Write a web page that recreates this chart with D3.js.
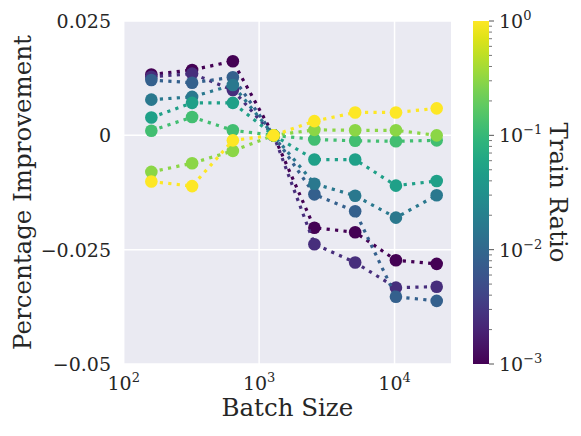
<!DOCTYPE html>
<html>
<head>
<meta charset="utf-8">
<script src="https://cdn.jsdelivr.net/npm/d3@7"></script>
<style>
  body { margin: 0; background: #fff; }
  text { font-family: "DejaVu Serif", serif; fill: #262626; }
</style>
</head>
<body>
<script>
// batch sizes on the x axis
const batchSizes = [160, 320, 640, 1280, 2560, 5120, 10240, 20480];

// train ratio of each series
const trainRatios = [0.001, 0.0025, 0.008, 0.016, 0.05, 0.125, 0.3, 1];

// percentage improvement per series, one value per batch size
const ratio0001 = [0.0133, 0.0143, 0.0162, 0, -0.0202, -0.0212, -0.0273, -0.0281];
const ratio0025 = [0.0128, 0.0135, 0.0099, 0, -0.0238, -0.0278, -0.0333, -0.0331];
const ratio0080 = [0.0121, 0.0115, 0.0127, 0, -0.0129, -0.0166, -0.0353, -0.0362];
const ratio0160 = [0.0078, 0.0084, 0.0110, 0, -0.0106, -0.0132, -0.0180, -0.0131];
const ratio0500 = [0.0039, 0.0071, 0.0071, 0, -0.0053, -0.0053, -0.0110, -0.0100];
const ratio1250 = [0.0010, 0.0040, 0.0011, 0, -0.0009, -0.0012, -0.0013, -0.0011];
const ratio3000 = [-0.0080, -0.0061, -0.0034, 0, 0.0012, 0.0011, 0.0011, 0.0000];
const ratio10000 = [-0.0101, -0.0111, -0.0011, 0, 0.0031, 0.0050, 0.0050, 0.0059];

const seriesValues = [ratio0001, ratio0025, ratio0080, ratio0160, ratio0500, ratio1250, ratio3000, ratio10000];

const yTicks = [0.025, 0, -0.025, -0.05];
const yTickLabels = ["0.025", "0", "\u22120.025", "\u22120.05"];
const xTicks = [100, 1000, 10000];
const cbTicks = [0.001, 0.01, 0.1, 1];

const W = 581, H = 436;
const plot = {left: 123.7, right: 451, top: 21, bottom: 364};

let svg = d3.select("body").append("svg")
    .attr("width", W)
    .attr("height", H);

let x = d3.scaleLog()
    .domain([100, Math.pow(10, 4.417)])
    .range([plot.left, plot.right]);

let y = d3.scaleLinear()
    .domain([-0.05, 0.025])
    .range([plot.bottom, plot.top]);

let color = d3.scaleSequentialLog(d3.interpolateViridis)
    .domain([0.001, 1]);

// plot background
svg.append("rect")
    .attr("x", plot.left)
    .attr("y", plot.top)
    .attr("width", plot.right - plot.left)
    .attr("height", plot.bottom - plot.top)
    .attr("fill", "#eaeaf2");

// grid
svg.append("g")
    .selectAll("line")
    .data(yTicks)
    .join("line")
    .attr("x1", plot.left)
    .attr("x2", plot.right)
    .attr("y1", d => y(d))
    .attr("y2", d => y(d))
    .attr("stroke", "#fff")
    .attr("stroke-width", 1.5);

svg.append("g")
    .selectAll("line")
    .data(xTicks)
    .join("line")
    .attr("x1", d => x(d))
    .attr("x2", d => x(d))
    .attr("y1", plot.top)
    .attr("y2", plot.bottom)
    .attr("stroke", "#fff")
    .attr("stroke-width", 1.5);

// y tick labels
svg.append("g")
    .selectAll("text")
    .data(yTicks)
    .join("text")
    .attr("x", 111)
    .attr("y", d => y(d))
    .attr("dy", "0.36em")
    .attr("text-anchor", "end")
    .style("font-size", "19px")
    .text((d, i) => yTickLabels[i]);

// x tick labels, 10^k
let xt = svg.append("g")
    .selectAll("text")
    .data(xTicks)
    .join("text")
    .attr("x", d => x(d))
    .attr("y", 390)
    .attr("text-anchor", "middle")
    .style("font-size", "19px");
xt.append("tspan").text("10");
xt.append("tspan")
    .attr("dy", -8)
    .style("font-size", "13px")
    .text(d => Math.round(Math.log10(d)));

// axis titles
svg.append("text")
    .attr("x", (plot.left + plot.right) / 2)
    .attr("y", 416)
    .attr("text-anchor", "middle")
    .style("font-size", "24.5px")
    .text("Batch Size");

svg.append("text")
    .attr("transform", `translate(31,${(plot.top + plot.bottom) / 2}) rotate(-90)`)
    .attr("text-anchor", "middle")
    .style("font-size", "24.5px")
    .text("Percentage Improvement");

// series: dotted line + markers, drawn from lowest ratio to highest
let line = d3.line()
    .x((d, i) => x(batchSizes[i]))
    .y(d => y(d));

seriesValues.forEach((vals, s) => {
    let c = color(trainRatios[s]);
    let g = svg.append("g");
    g.append("path")
        .attr("d", line(vals))
        .attr("fill", "none")
        .attr("stroke", c)
        .attr("stroke-width", 3.2)
        .attr("stroke-dasharray", "3.2,5.3");
    g.selectAll("circle")
        .data(vals)
        .join("circle")
        .attr("cx", (d, i) => x(batchSizes[i]))
        .attr("cy", d => y(d))
        .attr("r", 6.3)
        .attr("fill", c);
});

// colorbar
const cb = {left: 473, right: 489};
let cbScale = d3.scaleLog()
    .domain([0.001, 1])
    .range([plot.bottom, plot.top]);

let grad = svg.append("defs").append("linearGradient")
    .attr("id", "viridis")
    .attr("x1", 0).attr("y1", 1)
    .attr("x2", 0).attr("y2", 0);
grad.selectAll("stop")
    .data(d3.range(0, 1.0001, 0.05))
    .join("stop")
    .attr("offset", d => d)
    .attr("stop-color", d => d3.interpolateViridis(d));

svg.append("rect")
    .attr("x", cb.left)
    .attr("y", plot.top)
    .attr("width", cb.right - cb.left)
    .attr("height", plot.bottom - plot.top)
    .attr("fill", "url(#viridis)");

let minorTicks = [];
[0.001, 0.01, 0.1].forEach(b => {
    for (let k = 2; k <= 9; k++) minorTicks.push(b * k);
});

svg.append("g")
    .selectAll("line")
    .data(minorTicks)
    .join("line")
    .attr("x1", cb.right)
    .attr("x2", cb.right + 3)
    .attr("y1", d => cbScale(d))
    .attr("y2", d => cbScale(d))
    .attr("stroke", "#555")
    .attr("stroke-width", 0.8);

svg.append("g")
    .selectAll("line")
    .data(cbTicks)
    .join("line")
    .attr("x1", cb.right)
    .attr("x2", cb.right + 5)
    .attr("y1", d => cbScale(d))
    .attr("y2", d => cbScale(d))
    .attr("stroke", "#555")
    .attr("stroke-width", 1);

let cbt = svg.append("g")
    .selectAll("text")
    .data(cbTicks)
    .join("text")
    .attr("x", 499)
    .attr("y", d => cbScale(d))
    .attr("dy", "0.36em")
    .style("font-size", "19px");
cbt.append("tspan").text("10");
cbt.append("tspan")
    .attr("dy", -8)
    .style("font-size", "13px")
    .text(d => {
        let e = Math.round(Math.log10(d));
        return e < 0 ? "\u2212" + (-e) : e;
    });

svg.append("text")
    .attr("transform", `translate(550,${(plot.top + plot.bottom) / 2}) rotate(90)`)
    .attr("text-anchor", "middle")
    .style("font-size", "24.5px")
    .text("Train Ratio");
</script>
</body>
</html>
